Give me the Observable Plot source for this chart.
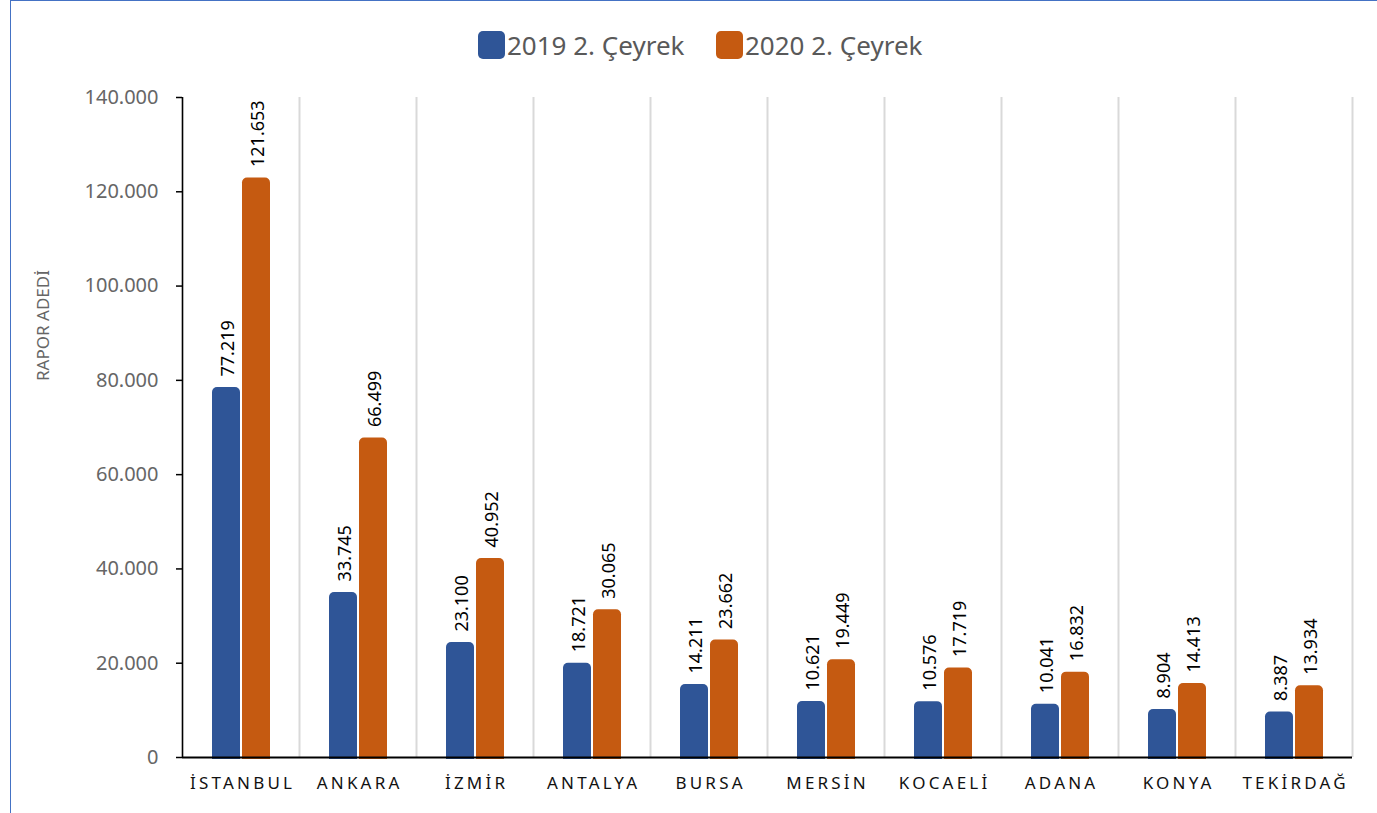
<!DOCTYPE html>
<html>
<head>
<meta charset="utf-8">
<script src="https://cdn.jsdelivr.net/npm/d3@7"></script>
<script src="https://cdn.jsdelivr.net/npm/@observablehq/plot@0.6"></script>
<style>
  html, body { margin: 0; padding: 0; background: #fff; width: 1377px; height: 813px; overflow: hidden; font-family: "Noto Sans", sans-serif; }
  #frame { position: absolute; left: 10px; top: 0; width: 2000px; height: 2000px; border-left: 1.5px solid #4472C4; border-top: 1.5px solid #4472C4; pointer-events: none; }
  #legend { position: relative; height: 75px; }
  .item { position: absolute; top: 27px; display: flex; align-items: center; font-size: 26px; color: #595959; }
  .sw { width: 27px; height: 28px; border-radius: 5px; margin-right: 2px; }
  #chart { position: relative; }
  g[aria-label="x-axis tick label"] text { letter-spacing: 3.2px; }
</style>
</head>
<body>
<div id="frame"></div>
<div id="legend"></div>
<div id="chart"></div>
<script>
const cities = ["İSTANBUL","ANKARA","İZMİR","ANTALYA","BURSA","MERSİN","KOCAELİ","ADANA","KONYA","TEKİRDAĞ"];
const series = ["2019 2. Çeyrek", "2020 2. Çeyrek"];
const v2019 = [77219, 33745, 23100, 18721, 14211, 10621, 10576, 10041, 8904, 8387];
const v2020 = [121653, 66499, 40952, 30065, 23662, 19449, 17719, 16832, 14413, 13934];
const yTicks = [0, 20000, 40000, 60000, 80000, 100000, 120000, 140000];
const yTitle = "RAPOR ADEDİ";
const colors = ["#2F5597", "#C55A11"];

const loc = d3.formatLocale({decimal: ",", thousands: ".", grouping: [3], currency: ["", ""]});
const fmt = loc.format(",");

const d19 = cities.map((c, i) => ({city: c, value: v2019[i]}));
const d20 = cities.map((c, i) => ({city: c, value: v2020[i]}));

// legend
const legend = document.getElementById("legend");
const lefts = [478, 716];
series.forEach((s, i) => {
  const it = document.createElement("div");
  it.className = "item";
  it.style.left = lefts[i] + "px";
  it.innerHTML = `<div class="sw" style="background:${colors[i]}"></div><span>${s}</span>`;
  legend.appendChild(it);
});

const half = 58.5;
const chart = Plot.plot({
  width: 1377,
  height: 738,
  marginLeft: 182,
  marginRight: 25,
  marginTop: 22,
  marginBottom: 56,
  style: {fontFamily: "Noto Sans", background: "transparent", overflow: "visible"},
  x: {type: "band", domain: cities, padding: 0},
  y: {domain: [0, 140000]},
  marks: [
    Plot.ruleX(cities, {x: d => d, dx: -half, stroke: "#d9d9d9", strokeWidth: 2}),
    Plot.ruleX([cities[cities.length - 1]], {x: d => d, dx: half, stroke: "#d9d9d9", strokeWidth: 2}),
    Plot.axisY({ticks: yTicks, tickFormat: fmt, tickSize: 6, tickPadding: 18, stroke: "black", strokeWidth: 1.5, fill: "#666", fontSize: 20, label: null}),
    Plot.axisX({tickSize: 0, tickPadding: 19, fill: "#111", fontSize: 17, label: null, dx: 1.6}),
    Plot.text([yTitle], {frameAnchor: "left", textAnchor: "middle", dx: -139, dy: -102, rotate: -90, fill: "#666", fontSize: 17}),
    Plot.barY(d19, {x: "city", y: "value", fill: colors[0], insetLeft: 30, insetRight: 59, insetTop: -6, insetBottom: -2, ry1: 5}),
    Plot.barY(d20, {x: "city", y: "value", fill: colors[1], insetLeft: 60, insetRight: 29, insetTop: -6, insetBottom: -2, ry1: 5}),
    Plot.ruleX([cities[0]], {x: d => d, dx: -half, stroke: "black", strokeWidth: 1.5}),
    Plot.ruleY([0], {stroke: "black", strokeWidth: 2}),
    Plot.text(d19, {x: "city", y: "value", text: d => fmt(d.value), rotate: -90, textAnchor: "start", lineAnchor: "middle", dx: -13, dy: -17, fill: "black", fontSize: 18}),
    Plot.text(d20, {x: "city", y: "value", text: d => fmt(d.value), rotate: -90, textAnchor: "start", lineAnchor: "middle", dx: 17, dy: -17, fill: "black", fontSize: 18})
  ]
});
document.getElementById("chart").appendChild(chart);
</script>
</body>
</html>
